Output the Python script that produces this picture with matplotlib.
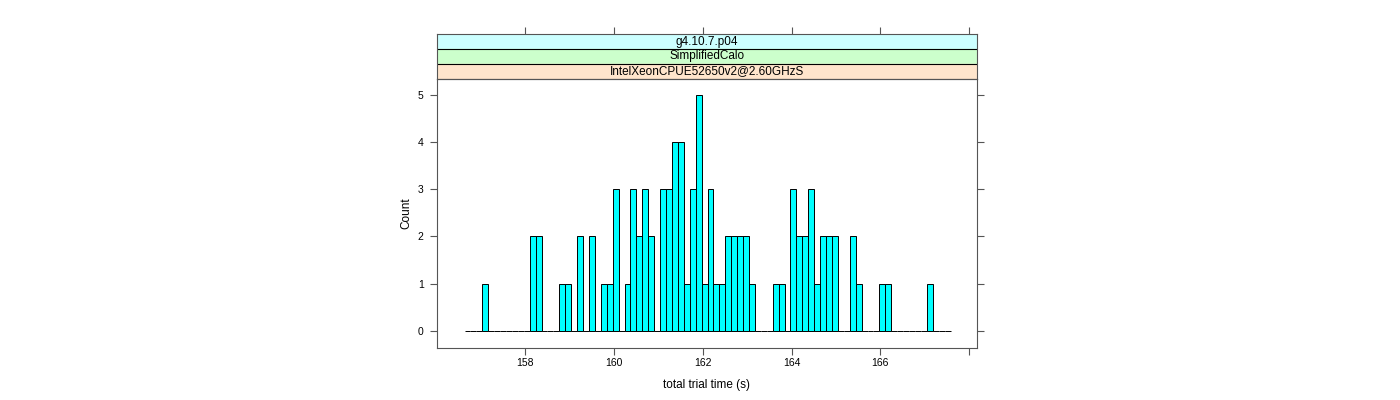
import matplotlib
matplotlib.use('Agg')
import matplotlib.pyplot as plt
import numpy as np

plt.rcParams['font.family'] = ['Liberation Sans', 'DejaVu Sans']

# histogram counts per bin
counts = [0, 0, 0, 1, 0, 0, 0, 0, 0, 0, 0, 2, 2, 0, 0, 0, 1, 1, 0, 2,
          0, 2, 0, 1, 1, 3, 0, 1, 3, 2, 3, 2, 0, 3, 3, 4, 4, 1, 3, 5,
          1, 3, 1, 1, 2, 2, 2, 2, 1, 0, 0, 0, 1, 1, 0, 3, 2, 2, 3, 1,
          2, 2, 2, 0, 0, 2, 1, 0, 0, 0, 1, 1, 0, 0, 0, 0, 0, 0, 1, 0,
          0, 0]
bin_lo = 156.63
bin_hi = 167.58

x_ticks = [158, 160, 162, 164, 166, 168]
x_labels = ['158', '160', '162', '164', '166', '']
y_ticks = [0, 1, 2, 3, 4, 5]

strips = ['g4.10.7.p04', 'SimplifiedCalo', 'IntelXeonCPUE52650v2@2.60GHzS']
strip_colors = ['#CCFFFF', '#CCFFCC', '#FFE5CC']

xlim = (156.01, 168.17)
ylim = (-0.353, 5.33)

axcol = '#555555'

fig = plt.figure(figsize=(14, 4), dpi=100)
ax = fig.add_axes([437 / 1400, 1 - 347.7 / 400, (976.7 - 437) / 1400, (347.7 - 79) / 400])
sax = fig.add_axes([437 / 1400, 1 - 79 / 400, (976.7 - 437) / 1400, 45 / 400])

edges = np.linspace(bin_lo, bin_hi, len(counts) + 1)
ax.bar(edges[:-1], counts, width=np.diff(edges), align='edge',
       color='#00FFFF', edgecolor='black', linewidth=0.7)

ax.set_xlim(*xlim)
ax.set_ylim(*ylim)
ax.set_xticks(x_ticks)
ax.set_xticklabels(x_labels)
ax.set_yticks(y_ticks)
ax.tick_params(axis='both', direction='out', length=5, width=0.8, color=axcol,
               labelsize=7.5)
ax.tick_params(axis='x', pad=2.5)
ax.tick_params(axis='y', pad=4.5, right=True, labelright=False)
ax.tick_params(axis='x', top=False)
for s in ax.spines.values():
    s.set_color(axcol)
    s.set_linewidth(0.8)
ax.set_xlabel('total trial time (s)', fontsize=8.5, labelpad=8)
ax.set_ylabel('Count', fontsize=8.5, labelpad=4)

# strips on top of the panel
sax.set_xlim(*xlim)
sax.set_ylim(0, 3)
for i, (txt, c) in enumerate(zip(strips, strip_colors)):
    y0 = 2 - i
    sax.axhspan(y0, y0 + 1, color=c, zorder=0)
    sax.axhline(y0, color='black', linewidth=0.8)
    sax.text(0.5, y0 + 0.5, txt, transform=sax.get_yaxis_transform(),
             ha='center', va='center', fontsize=8.5)
sax.set_xticks(x_ticks)
sax.set_yticks([])
sax.tick_params(axis='x', top=True, bottom=False, labeltop=False, labelbottom=False,
                direction='out', length=5, width=0.8, color=axcol)
for s in sax.spines.values():
    s.set_color(axcol)
    s.set_linewidth(0.8)

fig.savefig('out.png', dpi=100)
